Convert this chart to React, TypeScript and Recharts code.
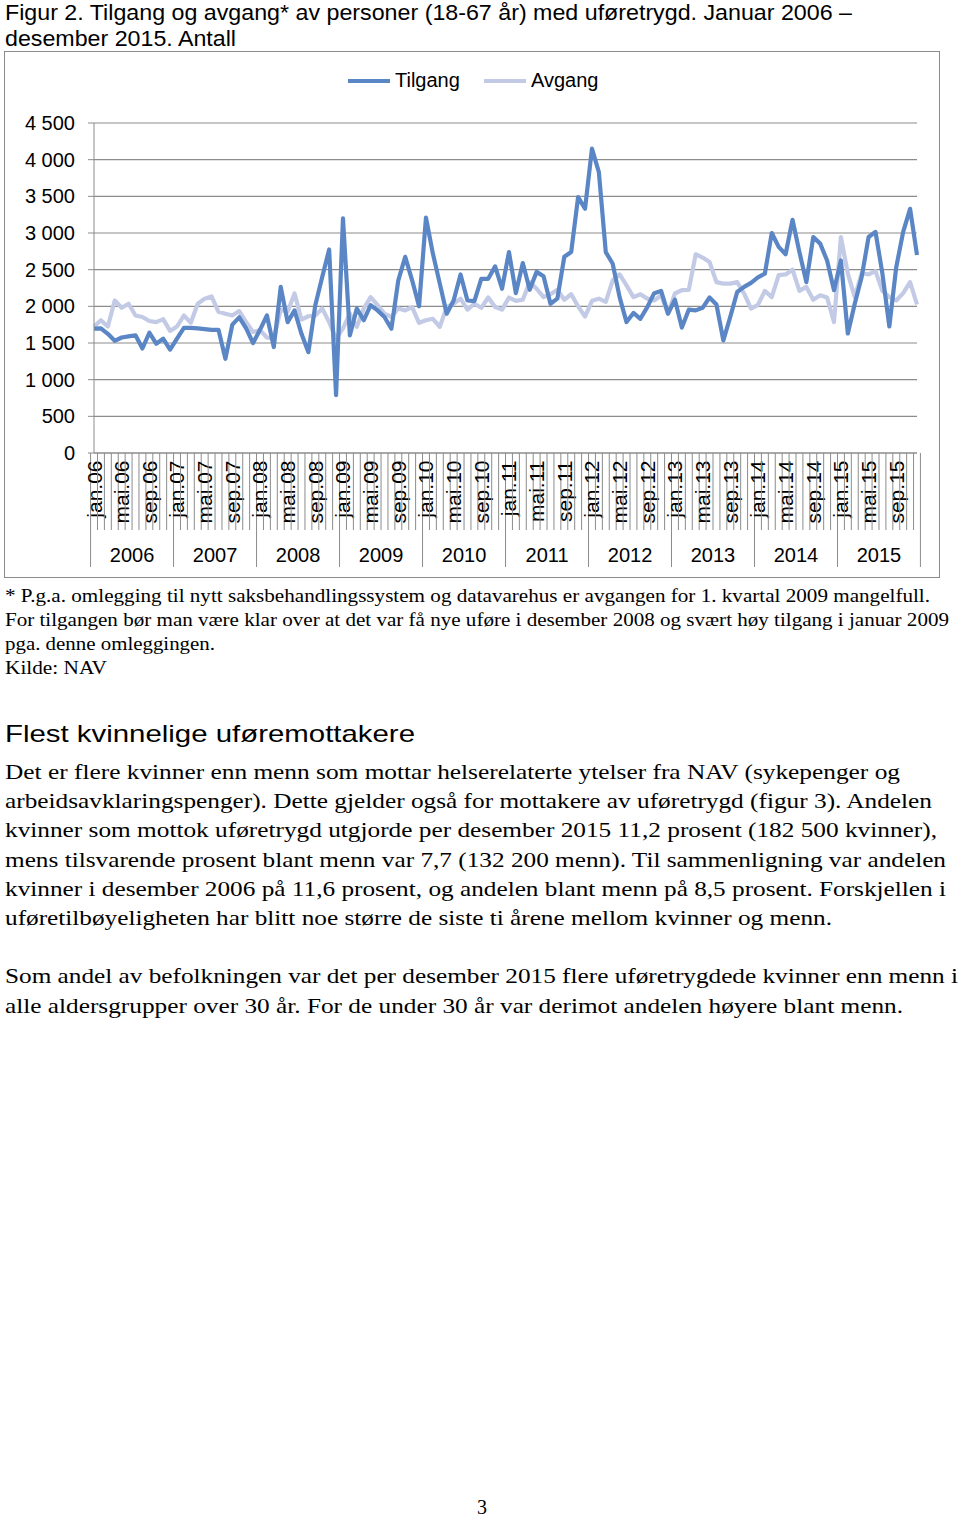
import React from 'react'
import { LineChart, Line, XAxis, YAxis, CartesianGrid } from 'recharts'

const months = ['jan', 'feb', 'mar', 'apr', 'mai', 'jun', 'jul', 'aug', 'sep', 'okt', 'nov', 'des']
const years = ['2006', '2007', '2008', '2009', '2010', '2011', '2012', '2013', '2014', '2015']
const yTicks = [0, 500, 1000, 1500, 2000, 2500, 3000, 3500, 4000, 4500]

// monthly counts, jan 2006 - des 2015
const tilgang = [
  1695, 1700, 1625, 1530, 1575, 1590, 1605, 1425, 1640, 1490, 1560, 1410,
  1560, 1705, 1705, 1700, 1690, 1680, 1680, 1285, 1750, 1850, 1700, 1500,
  1680, 1875, 1445, 2265, 1785, 1945, 1625, 1375, 2015, 2400, 2775, 790,
  3200, 1605, 1970, 1810, 2015, 1945, 1855, 1695, 2355, 2675, 2355, 2000,
  3210, 2720, 2310, 1900, 2080, 2435, 2080, 2070, 2375, 2375, 2545, 2240,
  2740, 2180, 2590, 2225, 2470, 2410, 2035, 2105, 2675, 2740, 3490, 3330,
  4150, 3830, 2740, 2580, 2125, 1785, 1910, 1830, 1990, 2180, 2210, 1900,
  2090, 1710, 1955, 1945, 1980, 2120, 2025, 1535, 1855, 2195, 2265, 2320,
  2395, 2445, 3000, 2810, 2710, 3180, 2740, 2330, 2945, 2855, 2625, 2220,
  2625, 1630, 2035, 2400, 2945, 3015, 2445, 1725, 2535, 3015, 3330, 2700,
]
const avgang = [
  1725, 1810, 1725, 2080, 1980, 2035, 1875, 1855, 1800, 1785, 1825, 1665,
  1725, 1875, 1775, 2035, 2105, 2135, 1925, 1900, 1875, 1935, 1785, 1650,
  1675, 1575, 1560, 1955, 1925, 2175, 1820, 1865, 1875, 1970, 1785, 1560,
  1700, 1900, 1720, 1970, 2125, 2015, 1900, 1855, 1970, 1945, 1990, 1775,
  1810, 1830, 1720, 1990, 2035, 2105, 1955, 2035, 1980, 2120, 1990, 1955,
  2120, 2075, 2090, 2330, 2240, 2125, 2165, 2225, 2090, 2165, 2000, 1860,
  2075, 2105, 2060, 2355, 2435, 2285, 2125, 2165, 2105, 2080, 2150, 1900,
  2175, 2220, 2225, 2710, 2665, 2605, 2330, 2310, 2310, 2330, 2175, 1970,
  2020, 2210, 2125, 2425, 2435, 2500, 2210, 2265, 2090, 2150, 2120, 1785,
  2945, 2445, 2125, 2455, 2435, 2480, 2210, 2125, 2080, 2180, 2330, 2025,
]

const titleLines = [
  'Figur 2. Tilgang og avgang* av personer (18-67 år) med uføretrygd. Januar 2006 –',
  'desember 2015. Antall',
]
const noteLines = [
  '* P.g.a. omlegging til nytt saksbehandlingssystem og datavarehus er avgangen for 1. kvartal 2009 mangelfull.',
  'For tilgangen bør man være klar over at det var få nye uføre i desember 2008 og svært høy tilgang i januar 2009',
  'pga. denne omleggingen.',
  'Kilde: NAV',
]
const heading = 'Flest kvinnelige uføremottakere'
const bodyLines = [
  'Det er flere kvinner enn menn som mottar helserelaterte ytelser fra NAV (sykepenger og',
  'arbeidsavklaringspenger). Dette gjelder også for mottakere av uføretrygd (figur 3). Andelen',
  'kvinner som mottok uføretrygd utgjorde per desember 2015 11,2 prosent (182 500 kvinner),',
  'mens tilsvarende prosent blant menn var 7,7 (132 200 menn). Til sammenligning var andelen',
  'kvinner i desember 2006 på 11,6 prosent, og andelen blant menn på 8,5 prosent. Forskjellen i',
  'uføretilbøyeligheten har blitt noe større de siste ti årene mellom kvinner og menn.',
  '',
  'Som andel av befolkningen var det per desember 2015 flere uføretrygdede kvinner enn menn i',
  'alle aldersgrupper over 30 år. For de under 30 år var derimot andelen høyere blant menn.',
]

const data = years.flatMap((yr, yi) =>
  months.map((m, mi) => ({
    label: `${m}.${yr.slice(2)}`,
    year: yr,
    month: mi,
    tilgang: tilgang[yi * 12 + mi],
    avgang: avgang[yi * 12 + mi],
  }))
)

const TILGANG_COLOR = '#5b86c5'
const AVGANG_COLOR = '#c3cae6'
const GRID = '#8c8c8c'
const SANS = '"Liberation Sans", Arial, sans-serif'
const SERIF = '"Liberation Serif", "Times New Roman", serif'

const CHART_W = 934
const CHART_H = 525
const Y_AXIS_W = 89
const MARGIN = { top: 71, right: 22, bottom: 10, left: 0 }
const X_AXIS_H = 114
const PLOT_W = CHART_W - Y_AXIS_W - MARGIN.right

const fmt = (v: number) => (v >= 1000 ? `${Math.floor(v / 1000)} ${String(v % 1000).padStart(3, '0')}` : String(v))

function MonthTick(props: any) {
  const { x, y, index } = props
  const d = data[index]
  if (!d) return null
  const step = PLOT_W / data.length
  const left = x - step / 2
  return (
    <g>
      <line x1={left} x2={left} y1={y} y2={y + (d.month === 0 ? 114 : 77)} stroke={GRID} strokeWidth={1} />
      {index === data.length - 1 && (
        <line x1={x + step / 2} x2={x + step / 2} y1={y} y2={y + 114} stroke={GRID} strokeWidth={1} />
      )}
      {d.month % 4 === 0 && (
        <text
          transform={`translate(${x + 7.5},${y + 7.5}) rotate(-90)`}
          textAnchor="end"
          fontSize={21}
          fontFamily={SANS}
          fill="#000"
        >
          {d.label}
        </text>
      )}
      {d.month === 6 && (
        <text x={left} y={y + 109} textAnchor="middle" fontSize={20} fontFamily={SANS} fill="#000">
          {d.year}
        </text>
      )}
    </g>
  )
}

function Legend() {
  const item = (name: string, color: string, left: number) => (
    <div style={{ position: 'absolute', left, top: 17, display: 'flex', alignItems: 'center' }}>
      <div style={{ width: 42, height: 4, background: color, marginRight: 5 }} />
      <span style={{ fontFamily: SANS, fontSize: 20 }}>{name}</span>
    </div>
  )
  return (
    <>
      {item('Tilgang', TILGANG_COLOR, 343)}
      {item('Avgang', AVGANG_COLOR, 479)}
    </>
  )
}

function PageText() {
  const line = (t: string, x: number, y: number, size: number, family: string, width?: number) =>
    t ? (
      <text
        key={`${y}-${t}`}
        x={x}
        y={y}
        fontSize={size}
        fontFamily={family}
        fill="#000"
        textLength={width}
        lengthAdjust={width ? 'spacingAndGlyphs' : undefined}
      >
        {t}
      </text>
    ) : null
  const bodyWidths = [895, 927, 932, 941, 941, 827, 0, 953, 898]
  const noteWidths = [925, 944, 210, 102]
  return (
    <svg width={960} height={1519} style={{ position: 'absolute', left: 0, top: 0 }}>
      {line(titleLines[0], 5, 20, 22, SANS, 847)}
      {line(titleLines[1], 5, 46, 22, SANS, 231)}
      {noteLines.map((t, i) => line(t, 5, 601.5 + i * 24, 19, SERIF, noteWidths[i]))}
      {line(heading, 5, 742, 24, SANS, 410)}
      {bodyLines.map((t, i) => line(t, 5, 779 + i * 29.2, 21, SERIF, bodyWidths[i] || undefined))}
      {line('3', 477, 1514, 20, SERIF)}
    </svg>
  )
}

export default function App() {
  return (
    <div style={{ position: 'absolute', left: 0, top: 0, width: 960, height: 1519, background: '#fff' }}>
      <PageText />
      <div
        style={{
          position: 'absolute',
          left: 4,
          top: 51,
          width: CHART_W,
          height: CHART_H,
          border: `1px solid ${GRID}`,
        }}
      >
        <Legend />
        <LineChart width={CHART_W} height={CHART_H} data={data} margin={MARGIN}>
          <CartesianGrid vertical={false} stroke={GRID} strokeWidth={1.2} />
          <XAxis
            dataKey="label"
            interval={0}
            tick={<MonthTick />}
            tickLine={false}
            tickSize={0}
            tickMargin={0}
            height={X_AXIS_H}
            axisLine={{ stroke: GRID }}
          />
          <YAxis
            domain={[0, 4500]}
            ticks={yTicks}
            interval={0}
            width={Y_AXIS_W}
            tickFormatter={fmt}
            tickSize={6}
            tickMargin={13}
            tickLine={{ stroke: GRID }}
            axisLine={{ stroke: GRID }}
            tick={{ fontSize: 20, fontFamily: SANS, fill: '#000' }}
          />
          <Line
            type="linear"
            dataKey="avgang"
            stroke={AVGANG_COLOR}
            strokeWidth={4.2}
            strokeLinejoin="round"
            dot={false}
            activeDot={false}
            isAnimationActive={false}
          />
          <Line
            type="linear"
            dataKey="tilgang"
            stroke={TILGANG_COLOR}
            strokeWidth={4.2}
            strokeLinejoin="round"
            dot={false}
            activeDot={false}
            isAnimationActive={false}
          />
        </LineChart>
      </div>
    </div>
  )
}
